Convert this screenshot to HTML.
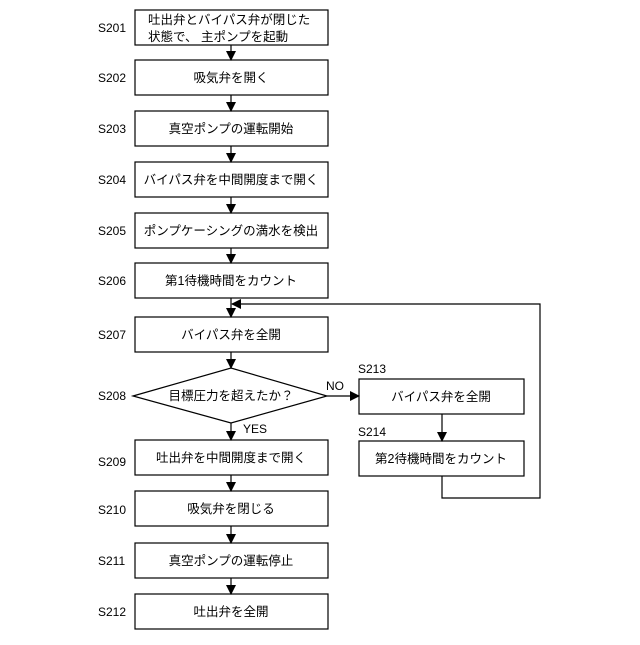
<!DOCTYPE html>
<html><head><meta charset="utf-8"><style>
body{margin:0;background:#fff}
svg text{font-family:"Liberation Sans","Noto Sans CJK JP",sans-serif;fill:#000}
</style></head><body>
<svg width="640" height="640" viewBox="0 0 640 640" xmlns="http://www.w3.org/2000/svg">
<defs><marker id="a" markerWidth="10" markerHeight="10" refX="9" refY="5" orient="auto" markerUnits="userSpaceOnUse"><path d="M0,0 L10,5 L0,10 z" fill="#000"/></marker></defs>
<g fill="#fff" stroke="#000" stroke-width="1.2">
<rect x="135" y="10" width="193" height="35"/>
<rect x="135" y="60" width="193" height="35"/>
<rect x="135" y="111" width="193" height="35"/>
<rect x="135" y="162" width="193" height="35"/>
<rect x="135" y="213" width="193" height="35"/>
<rect x="135" y="263" width="193" height="35"/>
<rect x="135" y="317" width="193" height="35"/>
<polygon points="133,396 231,368 327,396 231,423"/>
<rect x="135" y="440" width="193" height="35"/>
<rect x="135" y="491" width="193" height="35"/>
<rect x="135" y="543" width="193" height="35"/>
<rect x="135" y="594" width="193" height="35"/>
<rect x="359" y="379" width="165" height="35"/>
<rect x="359" y="441" width="165" height="35"/>
</g>
<g stroke="#000" stroke-width="1.2" fill="none" marker-end="url(#a)">
<line x1="231" y1="45" x2="231" y2="60"/>
<line x1="231" y1="95" x2="231" y2="111"/>
<line x1="231" y1="146" x2="231" y2="162"/>
<line x1="231" y1="197" x2="231" y2="213"/>
<line x1="231" y1="248" x2="231" y2="263"/>
<line x1="231" y1="298" x2="231" y2="317"/>
<line x1="231" y1="352" x2="231" y2="368"/>
<line x1="231" y1="423" x2="231" y2="440"/>
<line x1="231" y1="475" x2="231" y2="491"/>
<line x1="231" y1="526" x2="231" y2="543"/>
<line x1="231" y1="578" x2="231" y2="594"/>
<line x1="327" y1="396" x2="359" y2="396"/>
<line x1="442" y1="414" x2="442" y2="441"/>
<polyline points="442,476 442,498 540,498 540,304 232,304"/>
</g>
<g font-size="12">
<text x="98" y="32">S201</text><text x="98" y="82">S202</text><text x="98" y="133">S203</text>
<text x="98" y="184">S204</text><text x="98" y="235">S205</text><text x="98" y="285">S206</text>
<text x="98" y="339">S207</text><text x="98" y="400">S208</text><text x="98" y="466">S209</text>
<text x="98" y="514">S210</text><text x="98" y="565">S211</text><text x="98" y="616">S212</text>
<text x="358" y="373">S213</text><text x="358" y="436">S214</text>
<text x="326" y="390">NO</text><text x="243" y="433">YES</text>
</g>
<g font-size="12.5">
<text x="148" y="24">吐出弁とバイパス弁が閉じた</text>
<text x="148" y="41">状態で、 主ポンプを起動</text>
<text x="231" y="82" text-anchor="middle">吸気弁を開く</text>
<text x="231" y="133" text-anchor="middle">真空ポンプの運転開始</text>
<text x="231" y="184" text-anchor="middle">バイパス弁を中間開度まで開く</text>
<text x="231" y="235" text-anchor="middle">ポンプケーシングの満水を検出</text>
<text x="231" y="285" text-anchor="middle">第1待機時間をカウント</text>
<text x="231" y="339" text-anchor="middle">バイパス弁を全開</text>
<text x="231" y="400" text-anchor="middle">目標圧力を超えたか？</text>
<text x="231" y="462" text-anchor="middle">吐出弁を中間開度まで開く</text>
<text x="231" y="513" text-anchor="middle">吸気弁を閉じる</text>
<text x="231" y="565" text-anchor="middle">真空ポンプの運転停止</text>
<text x="231" y="616" text-anchor="middle">吐出弁を全開</text>
<text x="441" y="401" text-anchor="middle">バイパス弁を全開</text>
<text x="441" y="463" text-anchor="middle">第2待機時間をカウント</text>
</g>
</svg>
</body></html>
